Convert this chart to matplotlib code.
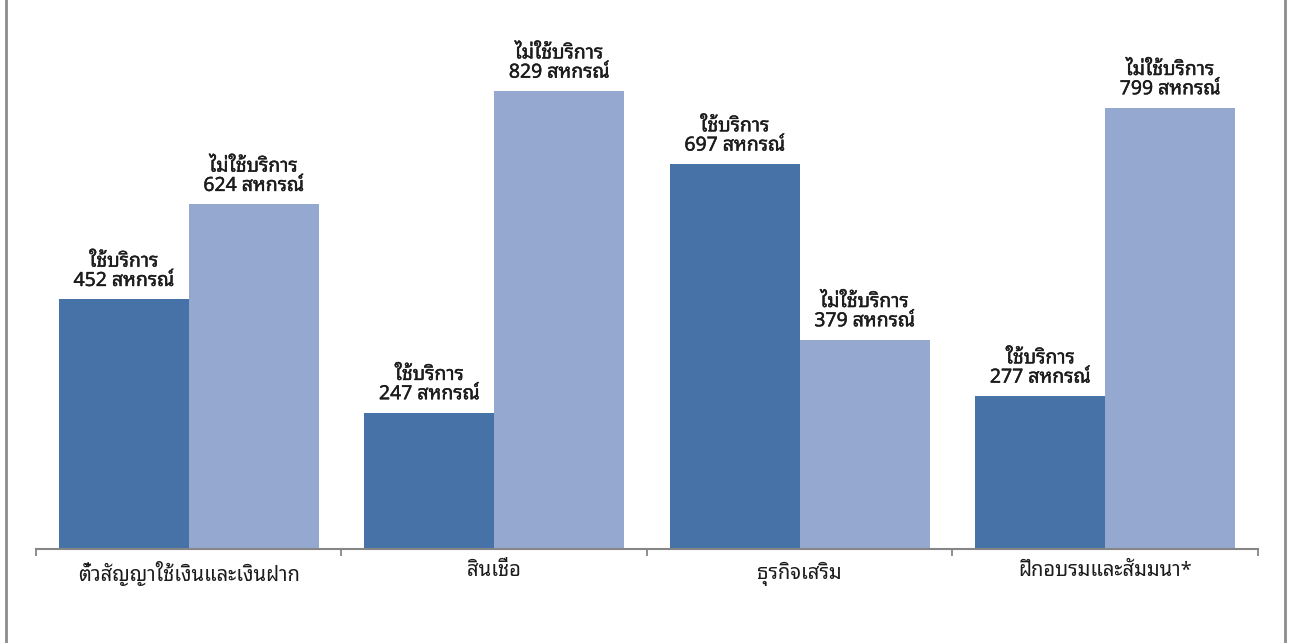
import matplotlib
matplotlib.use('Agg')
import matplotlib.pyplot as plt
import matplotlib.patheffects as pe
from matplotlib.lines import Line2D
import numpy as np

categories = ['ตั๋วสัญญาใช้เงินและเงินฝาก', 'สินเชื่อ', 'ธุรกิจเสริม', 'ฝึกอบรมและสัมมนา*']
used = [452, 247, 697, 277]
not_used = [624, 829, 379, 799]
used_label = 'ใช้บริการ'
not_used_label = 'ไม่ใช้บริการ'
unit = 'สหกรณ์'

dark = '#4672A8'
light = '#95A9D0'
text_col = '#1c1c1c'

plt.rcParams['font.family'] = ['Noto Sans Thai Looped', 'DejaVu Sans']

fig = plt.figure(figsize=(12.93, 6.43), dpi=100)
ax = fig.add_axes([36 / 1293, 94 / 643, 1222 / 1293, 541.4 / 643])

x = np.arange(len(categories))
w = 0.425
ax.bar(x - w / 2, used, w, color=dark)
ax.bar(x + w / 2, not_used, w, color=light)

# a thin stroke makes the labels a little heavier, like the original
heavy = [pe.withStroke(linewidth=0.3, foreground=text_col)]
for xi, v in zip(x, used):
    ax.annotate(f'{used_label}\n{v} {unit}', (xi - w / 2, v), xytext=(0, 6),
                textcoords='offset points', ha='center', va='bottom',
                fontsize=14, color=text_col, linespacing=0.95, path_effects=heavy)
for xi, v in zip(x, not_used):
    ax.annotate(f'{not_used_label}\n{v} {unit}', (xi + w / 2, v), xytext=(0, 6),
                textcoords='offset points', ha='center', va='bottom',
                fontsize=14, color=text_col, linespacing=0.95, path_effects=heavy)

ax.set_xlim(-0.5, len(categories) - 0.5)
ax.set_ylim(0, 980)
ax.set_yticks([])
ax.set_xticks(np.arange(len(categories) + 1) - 0.5)
ax.set_xticklabels([])
ax.set_xticks(x, minor=True)
ax.set_xticklabels(categories, minor=True, fontsize=14.5, color=text_col)
ax.tick_params(axis='x', which='major', direction='out', length=5, width=1.3, color='#868686')
ax.tick_params(axis='x', which='minor', length=0, pad=9)

for s in ['top', 'right', 'left']:
    ax.spines[s].set_visible(False)
ax.spines['bottom'].set_color('#868686')
ax.spines['bottom'].set_linewidth(1.5)

# grey side lines of the outer frame
fig.add_artist(Line2D([6 / 1293, 6 / 1293], [0, 1], color='#8c8c8c', lw=2, transform=fig.transFigure))
fig.add_artist(Line2D([1285 / 1293, 1285 / 1293], [0, 1], color='#8c8c8c', lw=2, transform=fig.transFigure))

fig.savefig('out.png', dpi=100)
